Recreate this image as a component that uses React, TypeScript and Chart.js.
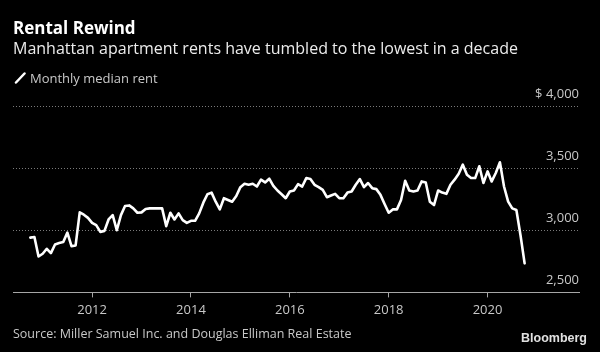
import React, { useEffect, useRef } from "react";
import { Chart, registerables } from "chart.js";

Chart.register(...registerables);

// ---- Data ----
const START_YEAR = 2010;
const START_MONTH = 10; // October 2010, monthly observations
const RENTS = [
  2941, 2946, 2789, 2811, 2851, 2816, 2886, 2897, 2905, 2981, 2872, 2878,
  3144, 3125, 3100, 3060, 3041, 2987, 2995, 3087, 3122, 3000, 3122, 3195,
  3200, 3176, 3141, 3144, 3171, 3176, 3176, 3176, 3176, 3033, 3141, 3087,
  3136, 3081, 3059, 3076, 3076, 3136, 3222, 3290, 3303, 3230, 3168, 3258,
  3244, 3230, 3276, 3347, 3374, 3366, 3374, 3352, 3407, 3385, 3415, 3358,
  3320, 3290, 3258, 3312, 3320, 3371, 3352, 3420, 3412, 3366, 3347, 3325,
  3266, 3280, 3293, 3258, 3258, 3303, 3312, 3366, 3412, 3347, 3380, 3339,
  3331, 3285, 3211, 3141, 3168, 3168, 3244, 3398, 3320, 3312, 3320, 3393,
  3385, 3230, 3203, 3320, 3303, 3293, 3366, 3407, 3455, 3528, 3447, 3420,
  3420, 3515, 3380, 3474, 3393, 3461, 3547, 3352, 3230, 3176, 3163, 2960,
  2734,
];
const X_TICK_YEARS = [2012, 2014, 2016, 2018, 2020];
const Y_TICKS = [2500, 3000, 3500, 4000];

const TITLE = "Rental Rewind";
const SUBTITLE = "Manhattan apartment rents have tumbled to the lowest in a decade";
const LEGEND_LABEL = "Monthly median rent";
const SOURCE = "Source: Miller Samuel Inc. and Douglas Elliman Real Estate";
const BRAND = "Bloomberg";

const FONT = "'Open Sans', sans-serif";

export default function App() {
  const ref = useRef<HTMLCanvasElement>(null);

  useEffect(() => {
    document.body.style.margin = "0";
    document.body.style.background = "#000";
    const points = RENTS.map((v, i) => ({
      x: START_YEAR + (START_MONTH - 1 + i) / 12,
      y: v,
    }));
    const chart = new Chart(ref.current as HTMLCanvasElement, {
      type: "line",
      data: {
        datasets: [
          {
            label: LEGEND_LABEL,
            data: points,
            borderColor: "#ffffff",
            borderWidth: 2.6,
            pointRadius: 0,
            tension: 0,
            borderJoinStyle: "round",
            borderCapStyle: "round",
          },
        ],
      },
      options: {
        animation: false,
        responsive: false,
        devicePixelRatio: 1,
        layout: { padding: { left: 13, right: 21, top: 106, bottom: 29 } },
        plugins: { legend: { display: false }, tooltip: { enabled: false } },
        scales: {
          x: {
            type: "linear",
            min: 2010.4,
            max: 2021.85,
            afterBuildTicks: (s: any) => {
              s.ticks = X_TICK_YEARS.map((v) => ({ value: v }));
            },
            afterFit: (s: any) => {
              s.paddingLeft = 0;
              s.paddingRight = 0;
            },
            ticks: {
              callback: (v: any) => String(v),
              color: "#c8c8c8",
              font: { family: FONT, size: 13 },
              padding: 5,
              maxRotation: 0,
              autoSkip: false,
            },
            grid: {
              drawOnChartArea: false,
              drawTicks: true,
              tickLength: 5,
              color: "#a6a6a6",
            },
            border: { display: true, color: "#a6a6a6", width: 1 },
          },
          y: {
            position: "right",
            min: 2500,
            max: 4000,
            afterBuildTicks: (s: any) => {
              s.ticks = Y_TICKS.map((v) => ({ value: v }));
            },
            afterFit: (s: any) => {
              s.paddingTop = 0;
              s.paddingBottom = 0;
            },
            ticks: {
              mirror: true,
              padding: 0,
              labelOffset: -12,
              color: "#c8c8c8",
              font: { family: FONT, size: 13 },
              callback: (v: any) =>
                (v === 4000 ? "$ " : "") + Number(v).toLocaleString("en-US"),
            },
            grid: {
              drawTicks: false,
              lineWidth: 1,
              color: (ctx: any) =>
                ctx.tick && ctx.tick.value === 2500 ? "rgba(0,0,0,0)" : "#7a7a7a",
            },
            border: { display: false, dash: [1, 2] },
          },
        },
      },
    });
    return () => chart.destroy();
  }, []);

  const abs = (extra: React.CSSProperties): React.CSSProperties => ({
    position: "absolute",
    whiteSpace: "nowrap",
    ...extra,
  });

  return (
    <div
      style={{
        position: "relative",
        width: 600,
        height: 352,
        background: "#000",
        overflow: "hidden",
        fontFamily: FONT,
      }}
    >
      <canvas
        ref={ref}
        width={600}
        height={352}
        style={{ position: "absolute", left: 0, top: 0, width: 600, height: 352 }}
      />
      <div style={abs({ left: 13, top: 18, fontSize: 17, lineHeight: "20px", fontWeight: 700, color: "#ffffff" })}>
        {TITLE}
      </div>
      <div style={abs({ left: 13, top: 38, fontSize: 16, lineHeight: "20px", color: "#ececec" })}>
        {SUBTITLE}
      </div>
      <svg style={{ position: "absolute", left: 14, top: 72 }} width={12} height={12}>
        <line x1={2} y1={10.5} x2={10.5} y2={1.5} stroke="#ffffff" strokeWidth={2.5} strokeLinecap="round" />
      </svg>
      <div style={abs({ left: 30, top: 70, fontSize: 13, lineHeight: "16px", color: "#c8c8c8" })}>
        {LEGEND_LABEL}
      </div>
      <div style={abs({ left: 13, top: 326, fontSize: 12.5, lineHeight: "16px", color: "#c8c8c8" })}>
        {SOURCE}
      </div>
      <div
        style={abs({
          right: 13,
          top: 330,
          fontSize: 12.5,
          lineHeight: "16px",
          fontWeight: 700,
          color: "#e0e0e0",
          fontFamily: "'Liberation Sans', Arial, sans-serif",
        })}
      >
        {BRAND}
      </div>
    </div>
  );
}
